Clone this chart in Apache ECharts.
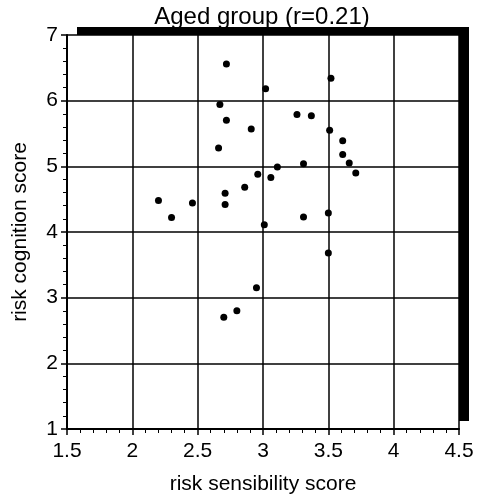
<!DOCTYPE html>
<html>
<head>
<meta charset="utf-8">
<script src="https://cdn.jsdelivr.net/npm/echarts@6/dist/echarts.min.js"></script>
<style>
html,body{margin:0;padding:0;background:#fff;}
#chart{width:482px;height:501px;}
</style>
</head>
<body>
<div id="chart"></div>
<script>
var titleText = 'Aged group (r=0.21)';
var xName = 'risk sensibility score';
var yName = 'risk cognition score';
var sensibility = [2.72,3.02,3.52,2.67,2.72,2.91,2.66,3.26,3.37,3.51,3.61,3.61,3.66,3.71,3.31,3.11,2.96,3.06,2.86,2.71,2.71,2.20,2.46,2.30,3.31,3.50,3.01,3.50,2.95,2.80,2.70];
var cognition   = [6.56,6.18,6.34,5.94,5.70,5.57,5.28,5.79,5.77,5.55,5.39,5.18,5.05,4.90,5.04,4.99,4.88,4.83,4.68,4.59,4.42,4.48,4.44,4.22,4.23,4.29,4.11,3.68,3.15,2.80,2.70];

var points = sensibility.map(function(x,i){ return [x, cognition[i]]; });
var FONT = '"Liberation Sans", Arial, sans-serif';

var chart = echarts.init(document.getElementById('chart'));
chart.setOption({
  animation: false,
  backgroundColor: '#fff',
  title: {
    text: titleText, left: 257, top: 0, textAlign: 'center',
    textStyle: {fontFamily: FONT, fontSize: 24, fontWeight: 'normal', color: '#000'}
  },
  grid: {
    left: 67, right: 23, top: 35, bottom: 72,
    show: true, backgroundColor: '#fff', borderWidth: 0,
    shadowColor: '#000', shadowBlur: 0, shadowOffsetX: 10, shadowOffsetY: -8
  },
  xAxis: {
    type: 'value', min: 1.5, max: 4.5, interval: 0.5,
    name: xName, nameLocation: 'middle', nameGap: 45,
    nameTextStyle: {fontFamily: FONT, fontSize: 21, color: '#000'},
    axisLine: {show: true, lineStyle: {color: '#000', width: 2}},
    axisTick: {show: true, length: 6, lineStyle: {color: '#000', width: 1.5}},
    minorTick: {show: true, splitNumber: 5, length: 4, lineStyle: {color: '#000', width: 1}},
    splitLine: {show: true, lineStyle: {color: '#000', width: 1.5}},
    axisLabel: {fontFamily: FONT, fontSize: 21, color: '#000', margin: 12,
      formatter: function(v){ return String(v); }}
  },
  yAxis: {
    type: 'value', min: 1, max: 7, interval: 1,
    name: yName, nameLocation: 'middle', nameGap: 36,
    nameTextStyle: {fontFamily: FONT, fontSize: 21, color: '#000'},
    axisLine: {show: true, lineStyle: {color: '#000', width: 2}},
    axisTick: {show: true, length: 6, lineStyle: {color: '#000', width: 1.5}},
    minorTick: {show: true, splitNumber: 5, length: 4, lineStyle: {color: '#000', width: 1}},
    splitLine: {show: true, lineStyle: {color: '#000', width: 1.5}},
    axisLabel: {fontFamily: FONT, fontSize: 21, color: '#000', margin: 9}
  },
  series: [{
    type: 'scatter',
    data: points,
    symbol: 'circle',
    symbolSize: 7,
    itemStyle: {color: '#000', opacity: 1}
  }]
});
</script>
</body>
</html>
